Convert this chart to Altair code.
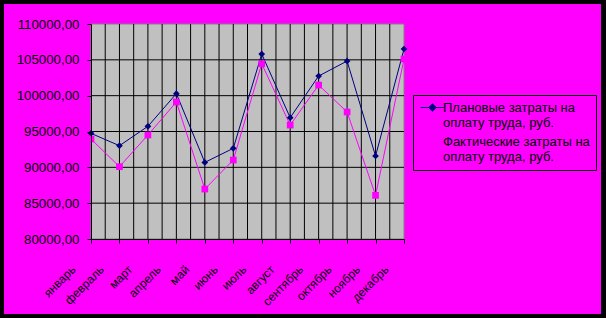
import altair as alt
import pandas as pd

months = ["январь", "февраль", "март", "апрель", "май", "июнь",
          "июль", "август", "сентябрь", "октябрь", "ноябрь", "декабрь"]
plan = [94740, 93020, 95720, 100280, 90690, 92650, 105810, 96930, 102740, 104830, 91580, 106510]
fact = [93950, 90090, 94510, 99110, 86970, 91020, 104460, 95900, 101480, 97720, 86090, 105110]
series = ["Плановые затраты на оплату труда, руб.",
          "Фактические затраты на оплату труда, руб."]
colors = ["#000080", "#FF00FF"]
shapes = ["diamond", "square"]
y_ticks = [80000, 85000, 90000, 95000, 100000, 105000, 110000]

W, H = 313, 215
FONT = "Liberation Sans"

rows = []
for i, m in enumerate(months):
    rows.append({"idx": i, "month": m, "value": plan[i], "series": series[0]})
    rows.append({"idx": i, "month": m, "value": fact[i], "series": series[1]})
df = pd.DataFrame(rows)

xscale = alt.Scale(domain=[0, len(months) - 1], nice=False, zero=False)
yscale = alt.Scale(domain=[y_ticks[0], y_ticks[-1]], nice=False, zero=False)

month_expr = "[" + ",".join("'" + m + "'" for m in months) + "][datum.value]"

xaxis = alt.Axis(values=list(range(len(months))), labelExpr=month_expr,
                 labelAngle=-45, labelAlign="right", labelBaseline="middle",
                 labelFontSize=12, labelFont=FONT, labelColor="black",
                 labelOffset=-18, labelPadding=24,
                 tickSize=4, tickColor="black", domainColor="black",
                 grid=False, zindex=1, labelOverlap=False, title=None)
yaxis = alt.Axis(values=y_ticks,
                 labelExpr="replace(format(datum.value, '.2f'), '.', ',')",
                 labelFontSize=13.3, labelFont=FONT, labelColor="black",
                 labelPadding=8, tickSize=4, tickColor="black",
                 domainColor="black", grid=False, zindex=1, title=None)

frame = alt.Chart(alt.Data(values=[{}])).mark_rect(
    color="#FF00FF", clip=False
).encode(x=alt.value(-87), x2=alt.value(510), y=alt.value(-20), y2=alt.value(290))

plotbg = alt.Chart(alt.Data(values=[{}])).mark_rect(
    fill="#C0C0C0", stroke="#808080", strokeWidth=1
).encode(x=alt.value(0), x2=alt.value(W), y=alt.value(0), y2=alt.value(H))

hgrid = alt.Chart(pd.DataFrame({"value": y_ticks[1:-1]})).mark_rule(
    color="black", strokeWidth=1
).encode(y=alt.Y("value:Q", scale=yscale, axis=yaxis))

half_positions = [k / 2 for k in range(1, 2 * (len(months) - 1))]
vgrid = alt.Chart(pd.DataFrame({"idx": half_positions})).mark_rule(
    color="black", strokeWidth=1
).encode(x=alt.X("idx:Q", scale=xscale, axis=xaxis))

# legend symbol: short line with a small diamond (unit = 4 px)
diamond_path = ("M-1.25,0H4.75"
                "M1.75,-0.85L2.6,0L1.75,0.85L0.9,0Z"
                "M1.75,-0.55L2.3,0L1.75,0.55L1.2,0Z"
                "M1.75,-0.25L2,0L1.75,0.25L1.5,0Z")

lines = alt.Chart(df).mark_line(strokeWidth=1).encode(
    x=alt.X("idx:Q", scale=xscale, axis=xaxis),
    y=alt.Y("value:Q", scale=yscale, axis=yaxis),
    color=alt.Color("series:N", scale=alt.Scale(domain=series, range=colors),
                    legend=alt.Legend(
                        title=None, orient="none", legendX=322, legendY=71,
                        fillColor="#FF00FF", strokeColor="black", padding=6,
                        symbolType=diamond_path,
                        symbolSize=64, symbolStrokeWidth=1.2,
                        labelFont=FONT, labelFontSize=13, labelColor="black",
                        labelBaseline="middle",
                        labelLimit=0, labelOffset=11, rowPadding=5,
                        labelExpr="[slice(datum.value, 0, indexof(datum.value, ' оплату')), slice(datum.value, indexof(datum.value, ' оплату') + 1)]",
                    )),
)

point_layers = []
for s, c, sh in zip(series, colors, shapes):
    point_layers.append(
        alt.Chart(df).transform_filter(alt.datum.series == s).mark_point(
            filled=True, opacity=1, color=c, shape=sh, size=45
        ).encode(
            x=alt.X("idx:Q", scale=xscale, axis=xaxis),
            y=alt.Y("value:Q", scale=yscale, axis=yaxis),
        )
    )

chart = alt.layer(frame, plotbg, hgrid, vgrid, lines, *point_layers).properties(
    width=W, height=H,
    background="black",
    padding={"left": 91, "top": 24, "right": 606 - 91 - W, "bottom": 318 - 24 - H},
    autosize=alt.AutoSizeParams(type="none"),
).configure_view(stroke=None)

chart.save("out.html", embed_options={"renderer": "svg", "actions": False})
